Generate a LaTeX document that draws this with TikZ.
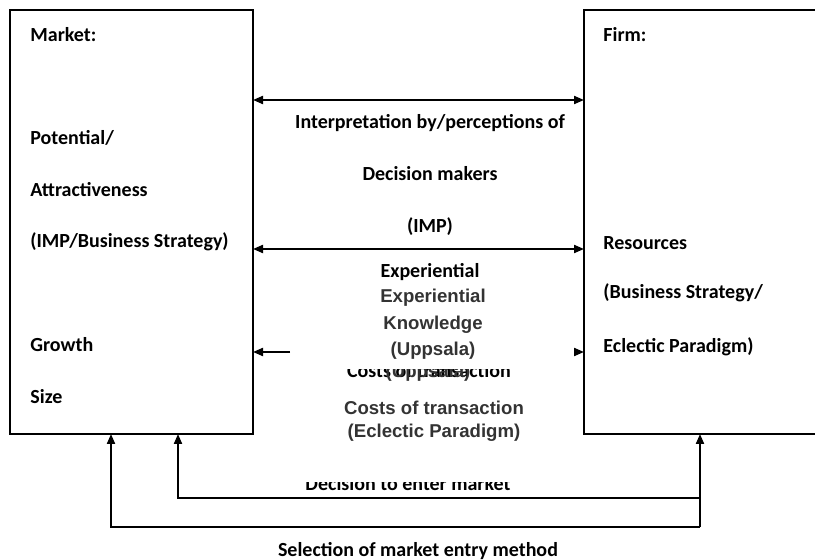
\documentclass[tikz,border=0pt]{standalone}
\usepackage{fontspec}
\setmainfont{Carlito}
\newfontfamily\arialish{Liberation Sans}
\usetikzlibrary{arrows.meta}

\tikzset{
	boxline/.style={line width=0.8pt},
	conn/.style={line width=1pt, -{Triangle[length=5pt,width=4pt]}},
	dbl/.style={line width=1pt, {Triangle[length=5pt,width=4pt]}-{Triangle[length=5pt,width=4pt]}},
	lbl/.style={font=\bfseries\fontsize{10}{12}\selectfont, anchor=west, inner sep=0pt},
	midlbl/.style={font=\bfseries\fontsize{10}{12}\selectfont, inner sep=0pt},
	greylbl/.style={font=\arialish\bfseries\fontsize{9.3}{11}\selectfont, text=black!80, inner sep=0pt}
}

\begin{document}
\begin{tikzpicture}[x=0.5pt,y=-0.5pt]
			%%%%% START %%%%%
			\useasboundingbox (0,0) rectangle (815,560);
			\clip (0,0) rectangle (815,560);
			
			% boxes
			\coordinate (mkt-nw) at (10,10);
			\coordinate (mkt-se) at (253,434);
			\coordinate (firm-nw) at (584,10);
			\coordinate (firm-se) at (840,434);
			\draw[boxline] (mkt-nw) rectangle (mkt-se);
			\draw[boxline] (firm-nw) rectangle (firm-se);
			
			\node[lbl] (market) at (30,35) {Market:};
			\node[lbl] (potential) at (30,138) {Potential/};
			\node[lbl] (attract) at (30,190) {Attractiveness};
			\node[lbl] (impbs) at (30,242) {(IMP/Business Strategy)};
			\node[lbl] (growth) at (30,345) {Growth};
			\node[lbl] (size) at (30,397) {Size};
			
			\node[lbl] (firm) at (603,35) {Firm:};
			\node[lbl] (resources) at (603,243) {Resources};
			\node[lbl] (bsep) at (603,293) {(Business Strategy/};
			\node[lbl] (eclectic) at (603,347) {Eclectic Paradigm)};
			
			% arrows between the boxes
			\coordinate (m1) at (253,100);
			\coordinate (f1) at (584,100);
			\coordinate (m2) at (253,249);
			\coordinate (f2) at (584,249);
			\coordinate (m3) at (253,352);
			\coordinate (k3) at (290,352);
			\coordinate (t3) at (577,352);
			\coordinate (f3) at (584,352);
			\draw[dbl] (m1) -- (f1);
			\draw[dbl] (m2) -- (f2);
			\draw[conn] (k3) -- (m3);
			\draw[conn] (t3) -- (f3);
			
			\node[midlbl] (interp) at (430,123) {Interpretation by/perceptions of};
			\node[midlbl] (dmakers) at (430,174) {Decision makers};
			\node[midlbl] (imp) at (430,227) {(IMP)};
			\node[midlbl] (exp1) at (430,272) {Experiential};
			
			\node[greylbl] (exp2) at (433,298) {Experiential};
			\node[greylbl] (know) at (433,325) {Knowledge};
			\node[greylbl] (upps1) at (433,351) {(Uppsala)};
			\node[greylbl] (costs2) at (434,408) {Costs of transaction};
			\node[greylbl] (eclp) at (434,433) {(Eclectic Paradigm)};
			
			\begin{scope}
				\clip (300,369.5) rectangle (560,395);
				\node[midlbl] (costs1) at (429,371) {Costs of transaction};
				\node[greylbl] (upps2) at (428,373) {(Uppsala)};
			\end{scope}
			
			% entry arrows from below
			\coordinate (m-sel) at (111,434);
			\coordinate (m-dec) at (178,434);
			\coordinate (f-in) at (700,434);
			\coordinate (dec-l) at (178,498);
			\coordinate (dec-r) at (700,498);
			\coordinate (sel-l) at (111,527);
			\coordinate (sel-r) at (700,527);
			\draw[conn] (dec-r) -- (dec-l) -- (m-dec);
			\draw[conn] (sel-r) -- (sel-l) -- (m-sel);
			\draw[conn] (sel-r) -- (f-in);
			
			\begin{scope}
				\clip (280,482.5) rectangle (560,496);
				\node[midlbl] (decision) at (408,484) {Decision to enter market};
			\end{scope}
			\node[midlbl] (selection) at (418,551) {Selection of market entry method};
			
			%%%%% END %%%%%
\end{tikzpicture}
\end{document}
